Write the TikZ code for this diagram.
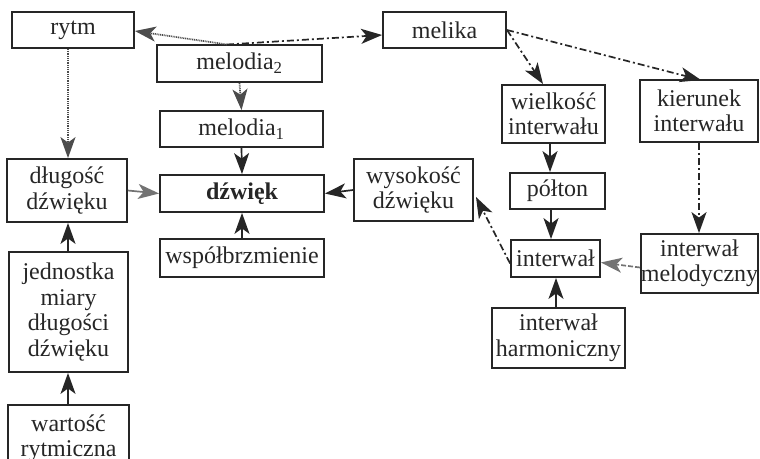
\documentclass[tikz,border=0pt]{standalone}
\usepackage{fontspec}
\setmainfont{Liberation Serif}
\usetikzlibrary{arrows.meta}
\begin{document}
\begin{tikzpicture}[x=1pt,y=-1pt,
  box/.style={draw=black!85,line width=1.8pt,inner sep=0pt,align=center,
    font=\fontsize{24}{25.5}\selectfont,text=black!85},
  tipp/.tip={Stealth[length=21pt,width=15pt,inset=5.5pt]},
  con/.style={line width=1.7pt,draw=black!85,-tipp},
  dotl/.style={con,draw=black!70,dash pattern=on 1pt off 0.8pt},
  dashdot/.style={con,dash pattern=on 7pt off 3pt on 2pt off 3pt},
  greyl/.style={con,draw=black!55}]
\useasboundingbox (0,0) rectangle (760,458);
\node[box,minimum width=122pt,minimum height=36pt] (rytm) at (73,30) {rytm};
\node[box,minimum width=165pt,minimum height=37pt] (mel2) at (239.5,63.5) {melodia\textsubscript{2}};
\node[box,minimum width=163pt,minimum height=36pt] (mel1) at (241.5,129) {melodia\textsubscript{1}};
\node[box,minimum width=123pt,minimum height=36pt] (melika) at (444.5,30) {melika};
\node[box,minimum width=103pt,minimum height=58pt] (wielk) at (553.5,114) {wielkość\\interwału};
\node[box,minimum width=118pt,minimum height=62pt] (kier) at (699,111) {kierunek\\interwału};
\node[box,minimum width=164pt,minimum height=37pt] (dzw) at (242,193.5) {\textbf{dźwięk}};
\node[box,minimum width=120pt,minimum height=63pt] (dlug) at (67,190.5) {długość\\dźwięku};
\node[box,minimum width=164pt,minimum height=38pt] (wspol) at (242,258) {współbrzmienie};
\node[box,minimum width=119pt,minimum height=120pt] (jedn) at (68.5,312) {jednostka\\miary\\długości\\dźwięku};
\node[box,minimum width=121pt,minimum height=66pt] (wart) at (68.5,438) {wartość\\rytmiczna};
\node[box,minimum width=119pt,minimum height=62pt] (wys) at (413.5,190) {wysokość\\dźwięku};
\node[box,minimum width=95pt,minimum height=36pt] (polt) at (557.5,191) {półton};
\node[box,minimum width=89pt,minimum height=37pt] (int) at (555.5,258.5) {interwał};
\node[box,minimum width=117pt,minimum height=59pt] (intmel) at (699.5,263.5) {interwał\\melodyczny};
\node[box,minimum width=133pt,minimum height=60pt] (intharm) at (558.5,338) {interwał\\harmoniczny};
\coordinate (m2top) at (227,44.5);
\coordinate (mlk) at (507,30);
% connectors
\draw[dotl] (m2top) -- ([yshift=-1pt]rytm.east);
\draw[dashdot] (m2top) -- ([yshift=-5pt]melika.west);
\draw[dotl] (mel2.south) -- (mel1.north);
\draw[dotl] (rytm.south -| 68,0) -- (dlug.north -| 68,0);
\draw[con] (mel1.south) -- (dzw.north);
\draw[greyl] (dlug.east) -- (dzw.west);
\draw[con] (wys.west) -- (dzw.west -| dzw.east);
\draw[con] (wspol.north) -- (dzw.south);
\draw[con] (jedn.north -| 68,0) -- (dlug.south -| 68,0);
\draw[con] (wart.north -| 68,0) -- (jedn.south -| 68,0);
\draw[dashdot] (mlk) -- (543,84);
\draw[dashdot] (mlk) -- (701,80);
\draw[con] (wielk.south -| 550,0) -- (polt.north -| 550,0);
\draw[con] (polt.south -| 551,0) -- (int.north -| 551,0);
\draw[dashdot] (kier.south) -- (intmel.north -| kier.south);
\draw[greyl,dash pattern=on 5pt off 2pt] ([yshift=-4pt]intmel.west) -- ([yshift=-4pt]int.east);
\draw[dashdot] ([yshift=-5pt]int.west) -- (476,197);
\draw[con] (intharm.north -| 556,0) -- (int.south -| 556,0);
\end{tikzpicture}
\end{document}
